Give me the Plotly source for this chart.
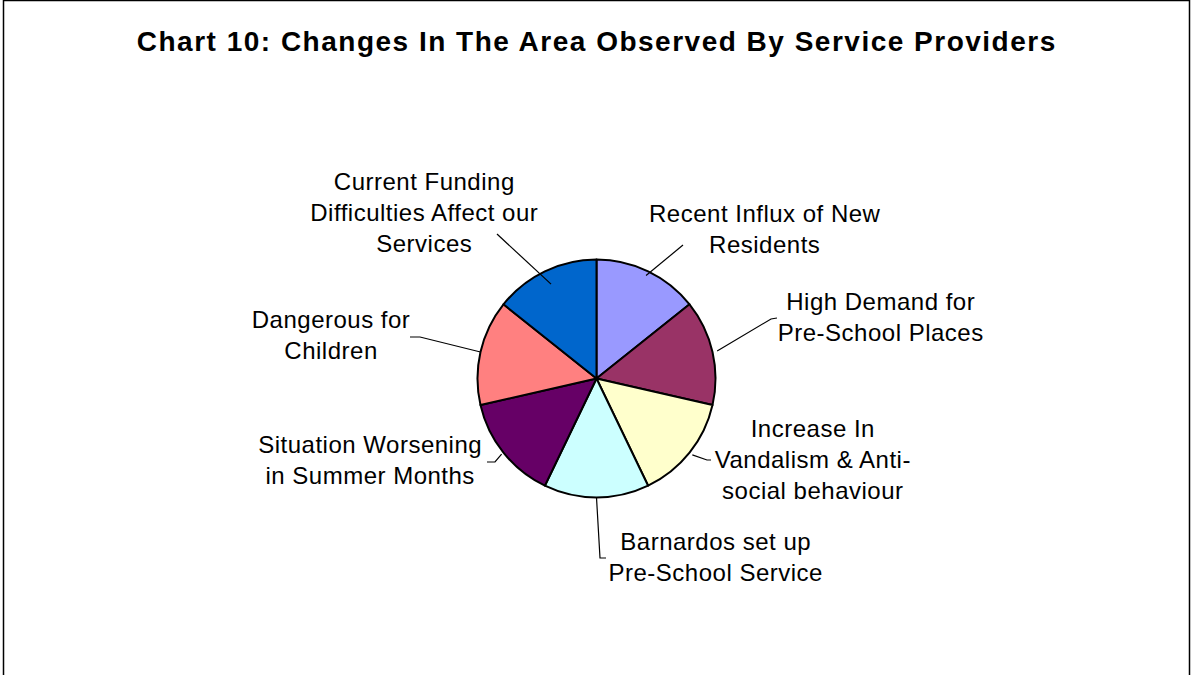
import math
import plotly.graph_objects as go

W, H = 1191, 675

title_text = "Chart 10: Changes In The Area Observed By Service Providers"
labels = [
    "Recent Influx of New<br>Residents",
    "High Demand for<br>Pre-School Places",
    "Increase In<br>Vandalism & Anti-<br>social behaviour",
    "Barnardos set up<br>Pre-School Service",
    "Situation Worsening<br>in Summer Months",
    "Dangerous for<br>Children",
    "Current Funding<br>Difficulties Affect our<br>Services",
]
values = [1, 1, 1, 1, 1, 1, 1]
colors = ["#9999FF", "#993366", "#FFFFCC", "#CCFFFF", "#660066", "#FF8080", "#0066CC"]

# layout: label block centres (px) and leader line label-side points (px)
label_pos = [(765, 229), (880, 317), (813, 459), (715, 557), (370, 460), (331, 335), (424, 212)]
leader_pts = [
    [(683, 245)],
    [(777, 318), (771, 319)],
    [(711, 460), (707, 460)],
    [(606, 558), (600, 558)],
    [(487, 462), (495, 462)],
    [(410, 337), (420, 337)],
    [(497, 234)],
]
leader_rfrac = [0.96, 1.04, 1.03, 1.0, 1.02, 1.0, 0.88]

cx, cy, r = 596.5, 378.5, 119.0
dom_x = [(cx - r) / W, (cx + r) / W]
dom_y = [(H - cy - r) / H, (H - cy + r) / H]

FONT = "Arial, 'Liberation Sans', sans-serif"

fig = go.Figure()
fig.add_trace(go.Pie(
    labels=[l.replace("<br>", " ") for l in labels],
    values=values,
    marker=dict(colors=colors, line=dict(color="black", width=2)),
    sort=False, direction="clockwise", rotation=0,
    textinfo="none", hoverinfo="label+percent",
    domain=dict(x=dom_x, y=dom_y),
    showlegend=False,
))

# leader lines from each slice's mid-angle (derived from values) to its label
total = sum(values)
cum = 0.0
shapes = []
for i, v in enumerate(values):
    mid = (cum + v / 2) / total * 2 * math.pi
    cum += v
    rf = leader_rfrac[i]
    px = cx + rf * r * math.sin(mid)
    py = cy - rf * r * math.cos(mid)
    pts = leader_pts[i] + [(px, py)]
    path = "M " + " L ".join(f"{x:.2f},{y:.2f}" for x, y in pts)
    shapes.append(dict(type="path", path=path, xref="x", yref="y",
                       line=dict(color="black", width=1.2), layer="above"))

# chart border
shapes.append(dict(type="rect", xref="x", yref="y", x0=3.5, y0=0.5, x1=1189.5, y1=720,
                   line=dict(color="black", width=1.5), layer="above"))

annotations = []
for (x, y), t in zip(label_pos, labels):
    annotations.append(dict(x=x, y=y, xref="x", yref="y", text=t, showarrow=False,
                            xanchor="center", yanchor="middle", align="center",
                            font=dict(family=FONT, size=24, color="black")))
annotations.append(dict(x=597, y=41, xref="x", yref="y", text="<b>" + title_text + "</b>",
                        showarrow=False, xanchor="center", yanchor="middle",
                        font=dict(family=FONT, size=28, color="black")))

fig.update_layout(
    width=W, height=H,
    margin=dict(l=0, r=0, t=0, b=0),
    paper_bgcolor="white", plot_bgcolor="white",
    xaxis=dict(range=[0, W], visible=False, fixedrange=True),
    yaxis=dict(range=[H, 0], visible=False, fixedrange=True),
    shapes=shapes, annotations=annotations,
)

post = """
var s = document.createElement('style');
s.innerHTML = 'html,body{margin:0;padding:0;overflow:hidden;}'
  + ' .annotation-text{letter-spacing:0.5px;}'
  + ' .annotation[data-index="7"] .annotation-text{letter-spacing:1.5px;}';
document.head.appendChild(s);
var gd = document.getElementById('{plot_id}');
Plotly.relayout(gd, {annotations: gd.layout.annotations});
"""
fig.write_html("out.html", post_script=post, config={"displayModeBar": False})
